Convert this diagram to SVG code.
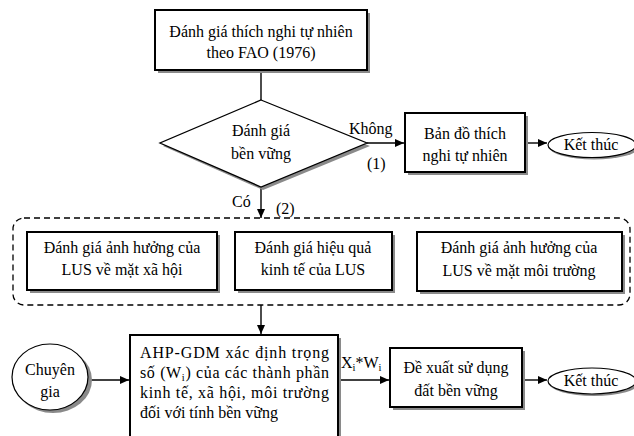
<svg xmlns="http://www.w3.org/2000/svg" width="634" height="436" viewBox="0 0 634 436" font-family="'Liberation Serif', 'DejaVu Serif', serif">
<style>
text{font-family:'Liberation Serif','DejaVu Serif',serif;font-size:16px;fill:#000}
.c{text-anchor:middle}
.box{fill:#fff;stroke:#000;stroke-width:2}
.sh{fill:#8a8a8a;stroke:none}
.ln{stroke:#000;stroke-width:1.4;fill:none}
.sub{font-size:10.5px}
</style>
<defs>
<marker id="ah" markerWidth="10" markerHeight="10" refX="9" refY="5" orient="auto" markerUnits="userSpaceOnUse">
<path d="M0,1 L9,5 L0,9 z" fill="#000"/>
</marker>
</defs>
<rect width="634" height="436" fill="#fff"/>

<g id="connectors">
<line class="ln" x1="261" y1="70" x2="261" y2="100"/>
<line class="ln" x1="367" y1="143" x2="404" y2="143" marker-end="url(#ah)"/>
<line class="ln" x1="525" y1="143" x2="547" y2="143" marker-end="url(#ah)"/>
<line class="ln" x1="261" y1="187" x2="261" y2="218" marker-end="url(#ah)"/>
<line class="ln" x1="261" y1="305" x2="261" y2="334" marker-end="url(#ah)"/>
<line class="ln" x1="88" y1="380" x2="129" y2="380" marker-end="url(#ah)"/>
<line class="ln" x1="339" y1="380" x2="389" y2="380" marker-end="url(#ah)"/>
<line class="ln" x1="522" y1="380" x2="547" y2="380" marker-end="url(#ah)"/>
<text x="349" y="134">Không</text>
<text x="367" y="169">(1)</text>
<text x="232" y="207">Có</text>
<text x="276" y="214">(2)</text>
<text x="341" y="368">X<tspan class="sub" dy="3">i</tspan><tspan dy="-3">*W</tspan><tspan class="sub" dy="3">i</tspan></text>
</g>

<g id="n-fao">
<rect class="sh" x="158" y="13" width="212" height="60"/>
<rect class="box" x="155" y="10" width="212" height="60"/>
<text class="c" x="261" y="37">Đánh giá thích nghi tự nhiên</text>
<text class="c" x="261" y="58">theo FAO (1976)</text>
</g>

<g id="n-decision">
<polygon class="sh" points="263,103 370,146 263,190 163,146"/>
<polygon points="261,100 367,143 261,187 160,143" fill="#fff" stroke="#000" stroke-width="1.3"/>
<text class="c" x="261" y="136">Đánh giá</text>
<text class="c" x="261" y="159">bền vững</text>
</g>

<g id="n-map">
<rect class="sh" x="408" y="116" width="120" height="59"/>
<rect class="box" x="405" y="113" width="120" height="59"/>
<text class="c" x="465" y="139">Bản đồ thích</text>
<text class="c" x="465" y="161">nghi tự nhiên</text>
</g>

<g id="n-end1">
<ellipse cx="594" cy="147" rx="45" ry="12.5" class="sh"/>
<ellipse cx="592" cy="145" rx="44" ry="12.5" fill="#fff" stroke="#000" stroke-width="1.2"/>
<text class="c" x="591" y="150">Kết thúc</text>
</g>

<g id="n-group">
<rect x="13" y="218" width="617" height="87" rx="11" fill="none" stroke="#000" stroke-width="1.3" stroke-dasharray="6,4"/>
</g>

<g id="n-social">
<rect class="sh" x="30" y="235" width="190" height="58"/>
<rect class="box" x="27" y="232" width="190" height="58"/>
<text class="c" x="122" y="253">Đánh giá ảnh hưởng của</text>
<text class="c" x="122" y="275">LUS về mặt xã hội</text>
</g>

<g id="n-econ">
<rect class="sh" x="238" y="235" width="157" height="58"/>
<rect class="box" x="235" y="232" width="157" height="58"/>
<text class="c" x="313" y="253">Đánh giá hiệu quả</text>
<text class="c" x="313" y="275">kinh tế của LUS</text>
</g>

<g id="n-env">
<rect class="sh" x="420" y="235" width="205" height="59"/>
<rect class="box" x="417" y="232" width="205" height="59"/>
<text class="c" x="519" y="253">Đánh giá ảnh hưởng của</text>
<text class="c" x="519" y="276">LUS về mặt môi trường</text>
</g>

<g id="n-expert">
<ellipse cx="53" cy="380" rx="39" ry="33" class="sh"/>
<ellipse cx="50" cy="377" rx="38" ry="33" fill="#fff" stroke="#000" stroke-width="1.2"/>
<text class="c" x="50" y="375">Chuyên</text>
<text class="c" x="50" y="397">gia</text>
</g>

<g id="n-ahp">
<rect class="sh" x="133" y="338" width="208" height="110"/>
<rect class="box" x="130" y="335" width="208" height="110"/>
<text x="140" y="358" textLength="189" lengthAdjust="spacing">AHP-GDM xác định trọng</text>
<text x="140" y="378" textLength="189" lengthAdjust="spacing">số (W<tspan class="sub" dy="3">i</tspan><tspan dy="-3">) của các thành phần</tspan></text>
<text x="140" y="398" textLength="189" lengthAdjust="spacing">kinh tế, xã hội, môi trường</text>
<text x="140" y="418">đối với tính bền vững</text>
</g>

<g id="n-propose">
<rect class="sh" x="393" y="351" width="132" height="59"/>
<rect class="box" x="390" y="348" width="132" height="59"/>
<text class="c" x="456" y="373">Đề xuất sử dụng</text>
<text class="c" x="456" y="396">đất bền vững</text>
</g>

<g id="n-end2">
<ellipse cx="594" cy="383" rx="45" ry="13" class="sh"/>
<ellipse cx="592" cy="381" rx="44" ry="13" fill="#fff" stroke="#000" stroke-width="1.2"/>
<text class="c" x="591" y="386">Kết thúc</text>
</g>
</svg>
